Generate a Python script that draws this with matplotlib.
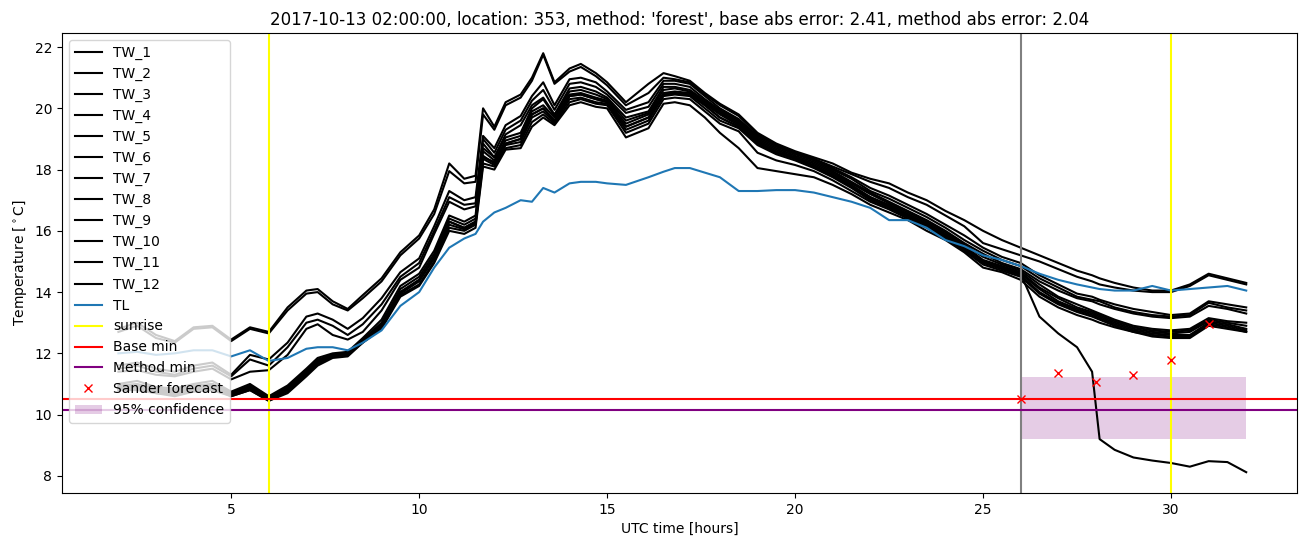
import numpy as np
import matplotlib
matplotlib.use('Agg')
import matplotlib.pyplot as plt

# time axis [hours UTC], shared by all sensor series
t = [2, 2.5, 3, 3.5, 4, 4.5, 5, 5.5, 6, 6.5,
     7, 7.3, 7.7, 8.1, 8.5, 9, 9.5, 10, 10.4, 10.8,
     11.2, 11.5, 11.7, 12, 12.3, 12.7, 13, 13.3, 13.6, 14,
     14.3, 14.7, 15, 15.5, 16.1, 16.5, 16.8, 17.2, 17.6, 18,
     18.5, 19, 19.5, 20, 20.5, 21, 21.5, 22, 22.5, 23,
     23.5, 24, 24.5, 25, 25.5, 26, 26.5, 27, 27.5, 27.9,
     28.1, 28.5, 29, 29.5, 30, 30.5, 31, 31.5, 32]

tw_1 = [12.8, 13.0, 12.6, 12.4, 12.85, 12.9, 12.45, 12.85, 12.7, 13.5,
        14.05, 14.1, 13.7, 13.45, 13.9, 14.45, 15.3, 15.85, 16.7, 18.2,
        17.7, 17.8, 20.0, 19.4, 20.2, 20.45, 21.0, 21.8, 20.85, 21.3,
        21.45, 21.15, 20.85, 20.2, 20.8, 21.15, 21.05, 20.9, 20.5, 20.15,
        19.8, 19.2, 18.85, 18.6, 18.4, 18.2, 17.9, 17.7, 17.55, 17.25,
        17.0, 16.65, 16.35, 16.0, 15.7, 15.45, 15.2, 14.95, 14.7, 14.55,
        14.45, 14.3, 14.15, 14.05, 14.05, 14.25, 14.6, 14.45, 14.3]
tw_2 = [12.7, 12.9, 12.5, 12.35, 12.8, 12.85, 12.4, 12.8, 12.65, 13.4,
        13.95, 14.0, 13.6, 13.4, 13.8, 14.35, 15.2, 15.75, 16.55, 17.95,
        17.55, 17.6, 19.8, 19.3, 20.1, 20.35, 20.9, 21.75, 20.8, 21.2,
        21.35, 21.05, 20.75, 20.1, 20.5, 21.0, 20.95, 20.85, 20.45, 20.1,
        19.75, 19.15, 18.8, 18.55, 18.35, 18.1, 17.85, 17.6, 17.4, 17.1,
        16.85, 16.5, 16.15, 15.6, 15.4, 15.2, 15.0, 14.75, 14.5, 14.35,
        14.25, 14.15, 14.05, 14.0, 14.0, 14.2, 14.55, 14.4, 14.25]
tw_3 = [11.6, 11.7, 11.5, 11.4, 11.6, 11.7, 11.3, 11.95, 11.8, 12.35,
        13.2, 13.3, 13.1, 12.8, 13.15, 13.8, 14.65, 15.1, 16.15, 17.3,
        17.0, 17.1, 19.1, 18.7, 19.45, 19.75, 20.4, 20.85, 20.1, 20.95,
        21.0, 20.85, 20.55, 19.95, 20.2, 20.9, 20.9, 20.8, 20.4, 20.0,
        19.65, 19.1, 18.8, 18.55, 18.35, 18.05, 17.75, 17.4, 17.15, 16.85,
        16.55, 16.2, 15.85, 15.45, 15.15, 14.95, 14.55, 14.25, 13.95, 13.85,
        13.75, 13.6, 13.45, 13.35, 13.25, 13.3, 13.7, 13.6, 13.5]
tw_4 = [11.5, 11.6, 11.4, 11.3, 11.5, 11.6, 11.25, 11.8, 11.6, 12.2,
        13.0, 13.1, 12.9, 12.6, 12.95, 13.6, 14.5, 14.95, 16.0, 17.1,
        16.85, 16.9, 19.0, 18.55, 19.3, 19.6, 20.25, 20.6, 19.95, 20.8,
        20.85, 20.7, 20.45, 19.85, 20.05, 20.8, 20.8, 20.7, 20.3, 19.95,
        19.6, 19.05, 18.75, 18.5, 18.3, 18.0, 17.7, 17.3, 17.05, 16.75,
        16.45, 16.1, 15.7, 15.35, 15.05, 14.85, 14.45, 14.15, 13.85, 13.75,
        13.7, 13.5, 13.35, 13.25, 13.2, 13.25, 13.65, 13.5, 13.4]
tw_5 = [11.4, 11.45, 11.3, 11.25, 11.4, 11.5, 11.15, 11.4, 11.45, 11.95,
        12.8, 12.95, 12.6, 12.45, 12.7, 13.4, 14.4, 14.8, 15.9, 16.95,
        16.7, 16.8, 18.85, 18.4, 19.15, 19.45, 20.1, 20.35, 19.8, 20.65,
        20.7, 20.55, 20.35, 19.7, 19.9, 20.7, 20.7, 20.6, 20.25, 19.9,
        19.55, 19.0, 18.7, 18.45, 18.25, 17.95, 17.6, 17.25, 16.95, 16.65,
        16.35, 16.0, 15.6, 15.25, 14.95, 14.75, 14.35, 14.05, 13.8, 13.7,
        13.6, 13.45, 13.3, 13.2, 13.15, 13.2, 13.55, 13.45, 13.3]
tw_6 = [11.0, 11.1, 10.9, 10.85, 11.0, 11.1, 10.75, 11.0, 10.6, 10.95,
        11.5, 11.85, 12.0, 12.05, 12.5, 13.1, 14.2, 14.6, 15.35, 16.5,
        16.3, 16.5, 18.7, 18.4, 19.05, 19.2, 20.0, 20.3, 19.75, 20.55,
        20.6, 20.45, 20.3, 19.6, 19.85, 20.6, 20.65, 20.55, 20.2, 19.85,
        19.5, 18.95, 18.65, 18.4, 18.2, 17.9, 17.55, 17.2, 16.9, 16.6,
        16.3, 15.95, 15.55, 15.15, 14.9, 14.7, 14.25, 13.85, 13.6, 13.4,
        13.3, 13.1, 12.9, 12.8, 12.75, 12.8, 13.15, 13.05, 13.0]
tw_7 = [10.95, 11.0, 10.85, 10.8, 10.95, 11.0, 10.7, 10.95, 10.55, 10.9,
        11.45, 11.8, 11.95, 12.0, 12.45, 13.0, 14.1, 14.5, 15.25, 16.4,
        16.2, 16.4, 18.6, 18.3, 18.95, 19.1, 19.9, 20.1, 19.7, 20.45,
        20.5, 20.35, 20.25, 19.5, 19.8, 20.5, 20.55, 20.5, 20.15, 19.8,
        19.45, 18.9, 18.6, 18.35, 18.15, 17.85, 17.5, 17.1, 16.85, 16.55,
        16.25, 15.9, 15.5, 15.05, 14.85, 14.65, 14.15, 13.8, 13.5, 13.35,
        13.25, 13.05, 12.85, 12.75, 12.7, 12.75, 13.1, 13.0, 12.9]
tw_8 = [10.9, 10.95, 10.8, 10.75, 10.9, 10.95, 10.7, 10.9, 10.5, 10.85,
        11.4, 11.75, 11.95, 12.0, 12.4, 12.95, 14.0, 14.4, 15.15, 16.3,
        16.1, 16.3, 18.45, 18.2, 18.85, 19.0, 19.8, 20.0, 19.6, 20.4,
        20.45, 20.3, 20.2, 19.4, 19.7, 20.45, 20.5, 20.45, 20.1, 19.7,
        19.4, 18.85, 18.55, 18.35, 18.1, 17.8, 17.45, 17.05, 16.8, 16.5,
        16.2, 15.85, 15.45, 15.0, 14.8, 14.6, 14.1, 13.7, 13.45, 13.3,
        13.2, 13.0, 12.8, 12.7, 12.65, 12.7, 13.05, 12.95, 12.8]
tw_9 = [10.85, 10.9, 10.75, 10.7, 10.85, 10.9, 10.65, 10.85, 10.5, 10.8,
        11.35, 11.7, 11.9, 11.95, 12.4, 12.9, 13.95, 14.35, 15.1, 16.2,
        16.05, 16.25, 18.35, 18.15, 18.8, 18.9, 19.7, 19.9, 19.55, 20.3,
        20.35, 20.2, 20.15, 19.3, 19.6, 20.4, 20.45, 20.4, 20.0, 19.6,
        19.35, 18.8, 18.5, 18.3, 18.05, 17.75, 17.4, 17.0, 16.75, 16.45,
        16.15, 15.8, 15.4, 14.95, 14.75, 14.55, 14.0, 13.65, 13.4, 13.25,
        13.15, 12.95, 12.75, 12.65, 12.6, 12.6, 13.0, 12.9, 12.75]
tw_10 = [10.8, 10.85, 10.7, 10.65, 10.8, 10.85, 10.6, 10.8, 10.45, 10.75,
         11.3, 11.65, 11.9, 11.95, 12.35, 12.85, 13.9, 14.25, 15.0, 16.1,
         16.0, 16.2, 18.2, 18.1, 18.7, 18.8, 19.55, 19.8, 19.5, 20.2,
         20.3, 20.15, 20.1, 19.2, 19.5, 20.3, 20.35, 20.3, 19.9, 19.5,
         19.25, 18.55, 18.3, 18.15, 17.95, 17.65, 17.3, 16.95, 16.7, 16.4,
         16.1, 15.75, 15.35, 14.9, 14.7, 14.5, 13.95, 13.6, 13.35, 13.2,
         13.1, 12.9, 12.7, 12.6, 12.55, 12.55, 12.95, 12.85, 12.7]
tw_11 = [10.8, 10.8, 10.7, 10.6, 10.75, 10.8, 10.6, 10.8, 10.45, 10.7,
         11.25, 11.6, 11.85, 11.9, 12.35, 12.8, 13.85, 14.2, 14.95, 16.0,
         15.9, 16.1, 18.1, 18.0, 18.65, 18.7, 19.4, 19.7, 19.45, 20.1,
         20.2, 20.05, 20.0, 19.05, 19.35, 20.15, 20.2, 20.1, 19.7, 19.2,
         18.7, 18.05, 17.95, 17.85, 17.75, 17.5, 17.2, 16.85, 16.6, 16.35,
         16.0, 15.7, 15.3, 14.8, 14.65, 14.4, 13.85, 13.5, 13.25, 13.1,
         13.0, 12.85, 12.7, 12.55, 12.5, 12.5, 12.9, 12.8, 12.7]
tw_12 = [10.9, 10.95, 10.8, 10.75, 10.9, 11.0, 10.7, 10.9, 10.5, 10.85,
         11.4, 11.75, 11.95, 12.0, 12.4, 12.9, 14.0, 14.4, 15.15, 16.3,
         16.1, 16.3, 18.4, 18.25, 18.85, 19.0, 19.8, 20.0, 19.6, 20.4,
         20.45, 20.3, 20.2, 19.4, 19.7, 20.45, 20.5, 20.45, 20.1, 19.7,
         19.4, 18.85, 18.55, 18.4, 18.1, 17.8, 17.45, 17.1, 16.8, 16.5,
         16.2, 15.85, 15.45, 15.0, 14.8, 14.6, 13.2, 12.65, 12.2, 11.4,
         9.2, 8.85, 8.6, 8.5, 8.42, 8.3, 8.48, 8.45, 8.12]
tl = [12.0, 12.05, 11.95, 12.0, 12.1, 12.1, 11.9, 12.1, 11.75, 11.85,
      12.15, 12.2, 12.2, 12.1, 12.35, 12.75, 13.55, 14.0, 14.8, 15.45,
      15.75, 15.9, 16.3, 16.6, 16.75, 17.0, 16.95, 17.4, 17.25, 17.55,
      17.6, 17.6, 17.55, 17.5, 17.75, 17.93, 18.05, 18.05, 17.9, 17.75,
      17.3, 17.3, 17.33, 17.33, 17.25, 17.1, 16.95, 16.75, 16.35, 16.35,
      16.1, 15.7, 15.5, 15.2, 15.05, 14.85, 14.6, 14.4, 14.25, 14.15,
      14.1, 14.05, 14.05, 14.2, 14.05, 14.1, 14.15, 14.2, 14.05]

tw_all = [tw_1, tw_2, tw_3, tw_4, tw_5, tw_6, tw_7, tw_8, tw_9, tw_10, tw_11, tw_12]

sunrise = [6, 30]
forecast_time = 26
base_min = 10.5
method_min = 10.15

sander_t = [26, 27, 28, 29, 30, 31]
sander_val = [10.5, 11.35, 11.05, 11.28, 11.77, 12.95]
conf_lo = 9.2
conf_hi = 11.23
conf_t = [26, 32]

fig, ax = plt.subplots(figsize=(13.11, 5.47), dpi=100)
fig.subplots_adjust(left=0.0473, right=0.9893, top=0.9397, bottom=0.0987)

for i, tw in enumerate(tw_all):
	ax.plot(t, tw, color='black', label='TW_%d' % (i + 1))
ax.plot(t, tl, color='C0', label='TL')

ax.axvline(forecast_time, color='grey')
ax.axvline(sunrise[0], color='yellow', label='sunrise')
ax.axvline(sunrise[1], color='yellow')
ax.axhline(base_min, color='red', label='Base min')
ax.axhline(method_min, color='purple', label='Method min')
ax.plot(sander_t, sander_val, 'rx', label='Sander forecast')
ax.fill_between(conf_t, [conf_lo, conf_lo], [conf_hi, conf_hi],
                color='purple', alpha=0.2, linewidth=0, label='95% confidence')

ax.set_xlim(0.5, 33.35)
ax.set_ylim(7.44, 22.46)
ax.set_yticks(range(8, 23, 2))
ax.set_xlabel('UTC time [hours]')
ax.set_ylabel(r'Temperature [$^\circ$C]')
ax.set_title("2017-10-13 02:00:00, location: 353, method: 'forest', base abs error: 2.41, method abs error: 2.04")
ax.legend(loc='upper left')

fig.savefig('out.png', dpi=100)
